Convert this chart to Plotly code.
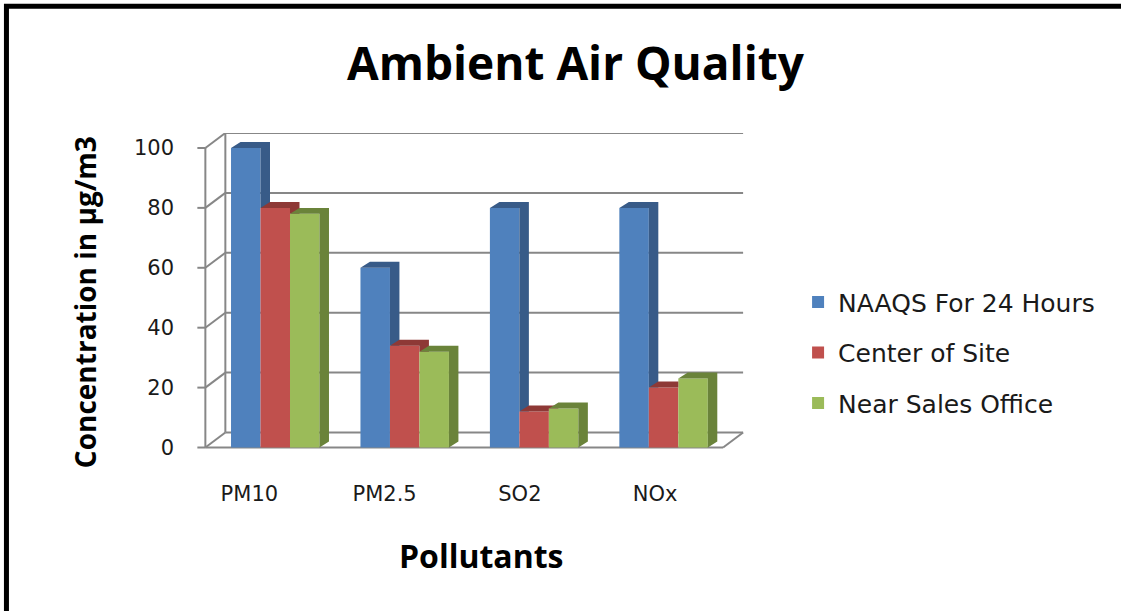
import plotly.graph_objects as go

# ---------------- data ----------------
categories = ["PM10", "PM2.5", "SO2", "NOx"]
naaqs_24h = [100, 60, 80, 80]
center_of_site = [80, 34, 12, 20]
near_sales_office = [78, 32, 13, 23]
series_names = ["NAAQS For 24 Hours", "Center of Site", "Near Sales Office"]
y_ticks = [0, 20, 40, 60, 80, 100]

# ---------------- styling / geometry ----------------
FIG_W, FIG_H = 1121, 611
front_colors = ["#4F81BD", "#C0504D", "#9BBB59"]
dark_colors = ["#385B88", "#8E3936", "#6A833A"]
grid_color = "#878787"

PX_X = 129.5   # pixels per category unit
PX_Y = 3.0     # pixels per value unit
X_MIN, X_MAX = -0.58, 3.70
Y_MIN, Y_MAX = -1.5, 105
AXIS_PX_X = 205
ZERO_PX_Y = 448
X0 = -0.5      # front axis position (data units)
X_END = len(categories) - 0.5

L = AXIS_PX_X - (X0 - X_MIN) * PX_X
PLOT_W = (X_MAX - X_MIN) * PX_X
R = FIG_W - L - PLOT_W
T = ZERO_PX_Y - Y_MAX * PX_Y
PLOT_H = (Y_MAX - Y_MIN) * PX_Y
B = FIG_H - T - PLOT_H

WX, WY = 20 / PX_X, 15 / PX_Y      # depth of back wall
DX, DY = 9.5 / PX_X, 6 / PX_Y      # depth of each bar
BW = 29.5 / PX_X                   # bar width
GC = 0.04                          # group centre shift


def px_to_paper_x(px):
    return (px - L) / PLOT_W


def px_to_paper_y(py):
    return (T + PLOT_H - py) / PLOT_H


def intersect(p, q, yc):
    t = (yc - p[1]) / (q[1] - p[1])
    return (p[0] + t * (q[0] - p[0]), yc)


def clip_above(poly, yc):
    out = []
    n = len(poly)
    for i in range(n):
        cur, prev = poly[i], poly[i - 1]
        cin, pin = cur[1] >= yc, prev[1] >= yc
        if cin:
            if not pin:
                out.append(intersect(prev, cur, yc))
            out.append(cur)
        elif pin:
            out.append(intersect(prev, cur, yc))
    return out


series_values = [naaqs_24h, center_of_site, near_sales_office]
xs = list(range(len(categories)))

fig = go.Figure()

# front faces (bars)
for k, (name, vals) in enumerate(zip(series_names, series_values)):
    fig.add_trace(go.Bar(
        x=xs, y=vals, name=name, width=BW,
        offset=GC - 1.5 * BW + k * BW,
        marker=dict(color=front_colors[k], line=dict(width=0)),
        legendgroup=name,
    ))

# 3D caps (top + side faces)
for k, (name, vals) in enumerate(zip(series_names, series_values)):
    cx, cy = [], []
    for i, v in enumerate(vals):
        xl = i + GC - 1.5 * BW + k * BW
        xr = xl + BW
        top = [(xl, v), (xl + DX, v + DY), (xr, v + DY), (xr, v)]
        strip = [(xr, 0), (xr + DX, DY), (xr + DX, v + DY), (xr, v + DY)]
        if k < len(series_values) - 1:
            strip = clip_above(strip, series_values[k + 1][i])
        for poly in (top, strip):
            if len(poly) >= 3:
                cx += [p[0] for p in poly] + [poly[0][0], None]
                cy += [p[1] for p in poly] + [poly[0][1], None]
    fig.add_trace(go.Scatter(
        x=cx, y=cy, mode="lines", fill="toself",
        fillcolor=dark_colors[k], line=dict(width=0, color=dark_colors[k]),
        hoverinfo="skip", showlegend=False, legendgroup=name,
    ))

# walls / gridlines / floor as shapes below the data
shapes = []
line_style = dict(color=grid_color, width=2)
for t in y_ticks:
    shapes.append(dict(type="line", xref="x", yref="y", layer="below",
                       x0=X0, y0=t, x1=X0 + WX, y1=t + WY, line=line_style))
    shapes.append(dict(type="line", xref="x", yref="y", layer="below",
                       x0=X0 + WX, y0=t + WY, x1=X_END + WX, y1=t + WY, line=line_style))
    shapes.append(dict(type="line", xref="x", yref="y", layer="below",
                       x0=X0 - 8 / PX_X, y0=t, x1=X0, y1=t, line=line_style))
shapes.append(dict(type="line", xref="x", yref="y", layer="below",
                   x0=X0, y0=y_ticks[0], x1=X0, y1=y_ticks[-1], line=line_style))
shapes.append(dict(type="line", xref="x", yref="y", layer="below",
                   x0=X0 + WX, y0=y_ticks[0] + WY, x1=X0 + WX, y1=y_ticks[-1] + WY,
                   line=line_style))
shapes.append(dict(type="line", xref="x", yref="y", layer="below",
                   x0=X0, y0=y_ticks[0], x1=X_END, y1=y_ticks[0], line=line_style))
shapes.append(dict(type="line", xref="x", yref="y", layer="below",
                   x0=X_END, y0=y_ticks[0], x1=X_END + WX, y1=y_ticks[0] + WY,
                   line=line_style))
# outer frame (right/bottom edges fall outside the picture)
shapes.append(dict(type="rect", xref="paper", yref="paper", layer="above",
                   x0=px_to_paper_x(6), x1=px_to_paper_x(FIG_W + 20),
                   y0=px_to_paper_y(FIG_H + 20), y1=px_to_paper_y(6),
                   line=dict(color="black", width=5)))

tick_positions = [i - 0.16 + 0.045 * i for i in xs]

fig.update_layout(
    width=FIG_W, height=FIG_H,
    margin=dict(l=L, r=R, t=T, b=B, pad=0),
    paper_bgcolor="white", plot_bgcolor="white",
    barmode="overlay",
    shapes=shapes,
    showlegend=True,
    legend=dict(
        x=px_to_paper_x(798), xanchor="left",
        y=px_to_paper_y(353), yanchor="middle",
        font=dict(family="DejaVu Sans", size=25, color="#1a1a1a"),
        traceorder="grouped", tracegroupgap=15,
        bgcolor="rgba(0,0,0,0)",
    ),
    xaxis=dict(
        range=[X_MIN, X_MAX], showgrid=False, zeroline=False, showline=False,
        tickmode="array", tickvals=tick_positions, ticktext=categories,
        ticks="", ticklabelstandoff=27,
        tickfont=dict(family="DejaVu Sans", size=21, color="#1a1a1a"),
        fixedrange=True,
    ),
    yaxis=dict(
        range=[Y_MIN, Y_MAX], showgrid=False, zeroline=False, showline=False,
        tickmode="array", tickvals=y_ticks, ticks="", ticklabelstandoff=20,
        tickfont=dict(family="DejaVu Sans", size=21, color="#1a1a1a"),
        fixedrange=True,
    ),
    annotations=[
        dict(text="<b>Ambient Air Quality</b>", xref="paper", yref="paper",
             x=px_to_paper_x(576), y=px_to_paper_y(62), xanchor="center", yanchor="middle",
             showarrow=False, font=dict(family="Open Sans", size=46, color="black")),
        dict(text="<b>Concentration in µg/m3</b>", xref="paper", yref="paper",
             x=px_to_paper_x(84), y=px_to_paper_y(302), xanchor="center", yanchor="middle",
             textangle=-90, showarrow=False,
             font=dict(family="Open Sans", size=28, color="black")),
        dict(text="<b>Pollutants</b>", xref="paper", yref="paper",
             x=px_to_paper_x(481), y=px_to_paper_y(556), xanchor="center", yanchor="middle",
             showarrow=False, font=dict(family="Open Sans", size=32, color="black")),
    ],
)

fig.write_html(
    "out.html",
    config={"displayModeBar": False},
    post_script="document.body.style.margin='0';document.body.style.overflow='hidden';",
)
